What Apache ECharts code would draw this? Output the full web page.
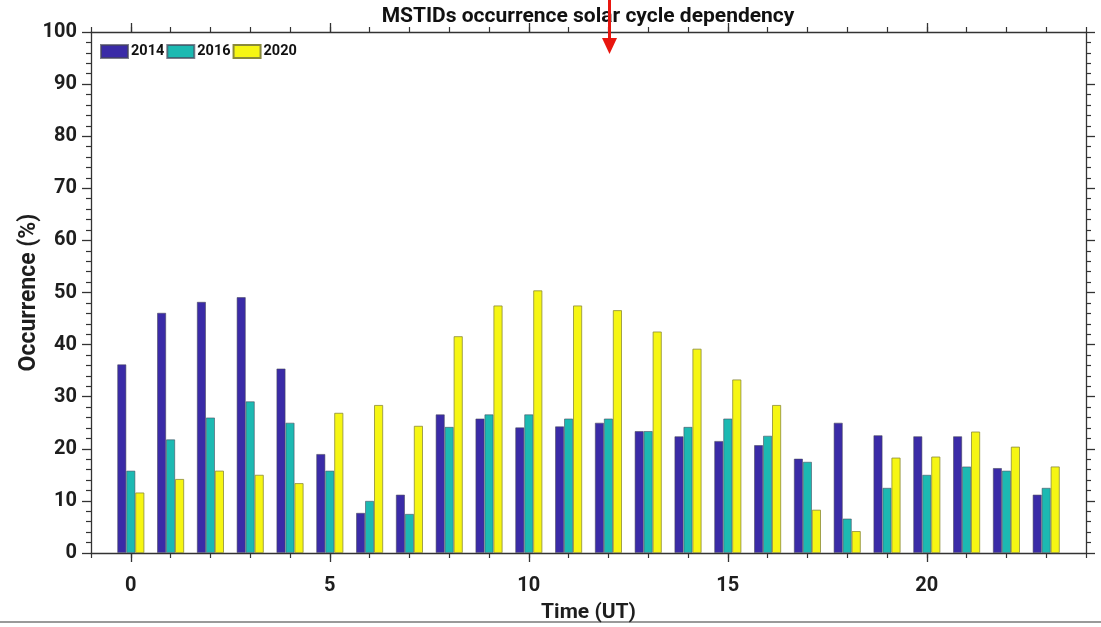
<!DOCTYPE html>
<html>
<head>
<meta charset="utf-8">
<script src="https://cdn.jsdelivr.net/npm/echarts@6/dist/echarts.min.js"></script>
<style>
html,body{margin:0;padding:0;background:#fff;}
#c{width:1101px;height:627px;}
</style>
</head>
<body>
<div id="c"></div>
<script>
// Axis tick positions (hours), including the padding slots at each end
const axisHours = ['-1','0','1','2','3','4','5','6','7','8','9','10','11','12','13','14','15','16','17','18','19','20','21','22','23','24'];
// Hours with data (0..23)
const hours = [0,1,2,3,4,5,6,7,8,9,10,11,12,13,14,15,16,17,18,19,20,21,22,23];
const occ2014 = [36.2,46.1,48.2,49.1,35.4,19.0,7.7,11.2,26.6,25.8,24.1,24.3,25.0,23.4,22.4,21.5,20.7,18.1,25.0,22.6,22.4,22.4,16.3,11.2];
const occ2016 = [15.8,21.8,26.0,29.1,25.0,15.8,10.0,7.5,24.2,26.6,26.6,25.8,25.8,23.4,24.2,25.8,22.5,17.5,6.6,12.5,15.0,16.6,15.8,12.5];
const occ2020 = [11.6,14.2,15.8,15.0,13.4,26.9,28.4,24.4,41.6,47.5,50.4,47.5,46.6,42.5,39.2,33.3,28.4,8.3,4.2,18.3,18.5,23.3,20.4,16.6];
const seriesNames = ['2014','2016','2020'];
const yTicks = [0,10,20,30,40,50,60,70,80,90,100];

const colors = ['#3A2BA7','#1CB9B2','#F6F613'];
const FONT = 'Roboto';
const txt = '#1e1e1e';

function pad(arr){ // place hourly values on the -1..24 axis slots
  const out = axisHours.map(() => null);
  hours.forEach((h,i) => { out[axisHours.indexOf(String(h))] = arr[i]; });
  return out;
}
const isMajor = (i, v) => Number(v) % 5 === 0;

const baseX = {
  type:'category', data: axisHours, boundaryGap:false,
  axisLine:{show:false, onZero:false}, splitLine:{show:false}, axisLabel:{show:false},
  axisTick:{show:true, inside:false, length:5, lineStyle:{color:'#333', width:1.2}, interval:0}
};

const chart = echarts.init(document.getElementById('c'), null, {renderer:'canvas'});
chart.setOption({
  backgroundColor:'#fff',
  animation:false,
  grid:{left:91, right:15, top:32, bottom:74, containLabel:false, outerBoundsMode:'none'},
  legend:{
    left:95, top:39, itemWidth:27, itemHeight:13, itemGap:2, icon:'rect',
    data: seriesNames,
    textStyle:{fontFamily:FONT, fontWeight:'bold', fontSize:14.5, color:'#111', padding:[0,0,0,-2]}
  },
  xAxis:[
    Object.assign({}, baseX, {
      position:'bottom',
      name:'Time (UT)', nameLocation:'middle', nameGap:49, nameMoveOverlap:false,
      nameTextStyle:{fontFamily:FONT, fontWeight:'bold', fontSize:21, color:txt},
      axisLine:{show:true, onZero:false, lineStyle:{color:'#333', width:1.3}},
      axisTick:{show:true, inside:false, length:9, interval:isMajor, lineStyle:{color:'#333', width:1.3}},
      axisLabel:{show:true, interval:isMajor, margin:23, fontFamily:FONT, fontWeight:'bold', fontSize:20, color:txt}
    }),
    Object.assign({}, baseX, {position:'bottom'}),
    Object.assign({}, baseX, {
      position:'top',
      axisLine:{show:true, onZero:false, lineStyle:{color:'#333', width:1.3}},
      axisTick:{show:true, inside:false, length:9, interval:isMajor, lineStyle:{color:'#333', width:1.3}}
    }),
    Object.assign({}, baseX, {position:'top'})
  ],
  yAxis:[
    {
      type:'value', position:'left', min:yTicks[0], max:yTicks[yTicks.length-1], interval:10,
      name:'Occurrence (%)', nameLocation:'middle', nameGap:50, nameRotate:90, nameMoveOverlap:false,
      nameTextStyle:{fontFamily:FONT, fontWeight:'bold', fontSize:23, color:txt},
      axisLine:{show:true, lineStyle:{color:'#333', width:1.3}},
      axisTick:{show:true, inside:false, length:9, lineStyle:{color:'#333', width:1.3}},
      minorTick:{show:true, splitNumber:5, length:5, lineStyle:{color:'#333', width:1.2}},
      splitLine:{show:false},
      axisLabel:{margin:14, fontFamily:FONT, fontWeight:'bold', fontSize:20, color:txt}
    },
    {
      type:'value', position:'right', min:yTicks[0], max:yTicks[yTicks.length-1], interval:10,
      axisLine:{show:true, lineStyle:{color:'#333', width:1.3}},
      axisTick:{show:true, inside:false, length:9, lineStyle:{color:'#333', width:1.3}},
      minorTick:{show:true, splitNumber:5, length:5, lineStyle:{color:'#333', width:1.2}},
      splitLine:{show:false},
      axisLabel:{show:false}
    }
  ],
  series: [occ2014, occ2016, occ2020].map((arr, k) => ({
    name: seriesNames[k], type:'bar', xAxisIndex:0, yAxisIndex:0,
    data: pad(arr), barWidth:9, barGap:'0%',
    itemStyle:{color:colors[k], borderColor: k===2 ? '#8a8a3a' : 'rgba(70,70,90,0.7)', borderWidth:0.8}
  })),
  graphic:[
    {type:'text', x:588, y:6, style:{text:'MSTIDs occurrence solar cycle dependency', fontFamily:FONT, fontWeight:'bold', fontSize:21, fill:'#111', textAlign:'center'}},
    {type:'line', shape:{x1:609.5, y1:0, x2:609.5, y2:40}, style:{stroke:'#E8160F', lineWidth:3}, z:100},
    {type:'polygon', shape:{points:[[602,38],[617,38],[609.5,54]]}, style:{fill:'#E8160F'}, z:100},
    {type:'rect', shape:{x:0, y:621, width:1101, height:2}, style:{fill:'#9a9a9a'}}
  ]
});
</script>
</body>
</html>
